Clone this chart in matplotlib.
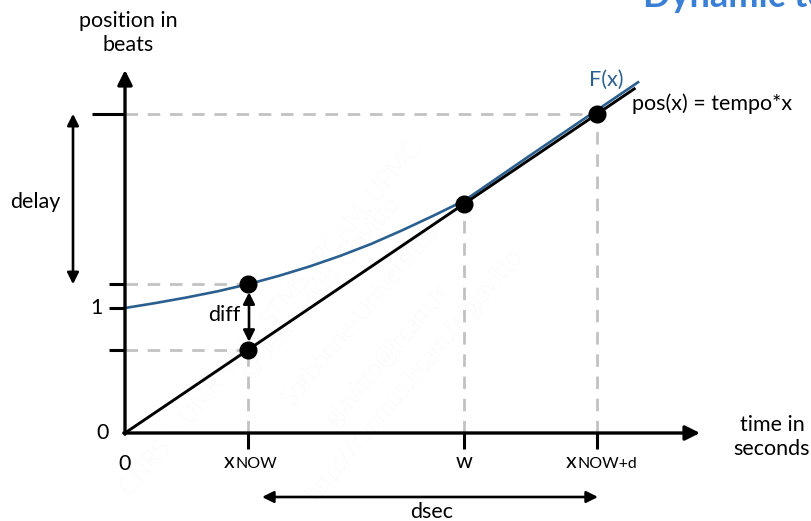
import matplotlib
matplotlib.use("Agg")
import matplotlib.pyplot as plt
import numpy as np

plt.rcParams['font.family'] = ['Lato', 'DejaVu Sans']

# ---- data ----
tempo = 0.665
x_now = 1.0
w = 2.76
x_now_d = 3.84
x_end = 4.15            # end of the drawn pos(x) line
beat_one = 1.0
F_at_now = 1.19

# F(x) (before w, then running just above pos(x))
F_x = [0.0, 0.25, 0.5, 0.75, 1.0, 1.25, 1.5, 1.75, 2.0, 2.25, 2.5, 2.76, 3.3, 3.84, 4.18]
F_y = [1.0, 1.04, 1.084, 1.133, 1.19, 1.257, 1.332, 1.417, 1.512, 1.62, 1.735, 1.86,
       2.225, 2.585, 2.812]

x_tick_labels = ["0", "x", "w", "x"]
x_tick_subs = ["", "NOW", "", "NOW+d"]

# ---- figure ----
W, H = 812, 521
fig = plt.figure(figsize=(W / 100, H / 100), dpi=100)
ax = fig.add_axes([0, 0, 1, 1])
# pixel mapping: x_px = 125 + 123*x ; y_px = 433 - 125*y
ax.set_xlim(-125 / 123, (W - 125) / 123)
ax.set_ylim(-(H - 433) / 125, 433 / 125)
ax.axis('off')

px = 1 / 123.0   # one pixel in x data units
py = 1 / 125.0   # one pixel in y data units


def X(p):
    return (p - 125) * px


def Y(p):
    return (433 - p) * py


gray = '#c2c2c2'
blue = '#2a5f8f'
dash = dict(color=gray, lw=2.0, dashes=(4.5, 3.5))

pos_now = tempo * x_now
pos_w = tempo * w
pos_d = tempo * x_now_d

# faint watermark
wm = [("CNRS \u2013 UMR 9912 STMS, IRCAM, UPMC", 135, 500),
      ("\u00a9 Jean-Louis Giavitto", 255, 385),
      ("Sorbonne-Universit\u00e9s", 295, 410),
      ("giavitto@ircam.fr", 340, 430),
      ("http://repmus.ircam.fr/giavitto", 320, 505)]
for t, wx, wy in wm:
    ax.text(X(wx), Y(wy), t, rotation=50, fontsize=18, color='#f1f1f1',
            ha='left', va='bottom', zorder=0, rotation_mode='anchor', fontweight='light')

# dashed guides
ax.plot([0, x_now_d], [pos_d, pos_d], **dash, zorder=1)
ax.plot([0, x_now], [F_at_now, F_at_now], **dash, zorder=1)
ax.plot([0, x_now], [pos_now, pos_now], **dash, zorder=1)
ax.plot([x_now, x_now], [0, pos_now], **dash, zorder=1)
ax.plot([w, w], [0, pos_w], **dash, zorder=1)
ax.plot([x_now_d, x_now_d], [0, pos_d], **dash, zorder=1)

# axes as arrows
arrow_axis = dict(arrowstyle='-|>', lw=2.4, color='black', mutation_scale=22,
                  shrinkA=0, shrinkB=0)
ax.annotate('', xy=(0, Y(70)), xytext=(0, -1.2 * py), arrowprops=arrow_axis, zorder=5)
ax.annotate('', xy=(X(700), 0), xytext=(-1.2 * px, 0), arrowprops=arrow_axis, zorder=5)

# y ticks
for yv, length in [(pos_d, 33), (F_at_now, 16), (beat_one, 16), (pos_now, 16)]:
    ax.plot([-length * px, 0], [yv, yv], color='black', lw=2.2, solid_capstyle='butt', zorder=5)
# x ticks
for xv in [x_now, w, x_now_d]:
    ax.plot([xv, xv], [0, -16 * py], color='black', lw=2.2, solid_capstyle='butt', zorder=5)

# curves
ax.plot(F_x, F_y, color=blue, lw=1.9, zorder=3, solid_capstyle='butt')
xl = np.array([0, x_end])
ax.plot(xl, tempo * xl, color='black', lw=2.1, zorder=4, solid_capstyle='butt')

# points
pts_x = [x_now, x_now, w, x_now_d]
pts_y = [pos_now, F_at_now, pos_w, pos_d]
ax.plot(pts_x, pts_y, 'o', color='black', ms=12, zorder=6)

# double arrows
darr = dict(arrowstyle='<|-|>', lw=1.9, color='black', mutation_scale=17,
            shrinkA=0, shrinkB=0)
ax.annotate('', xy=(X(73), pos_d), xytext=(X(73), F_at_now), arrowprops=darr)
ax.annotate('', xy=(x_now + 1 * px, F_at_now - 8 * py), xytext=(x_now + 1 * px, pos_now + 8 * py),
            arrowprops=darr)
ax.annotate('', xy=(X(262), Y(497)), xytext=(X(598), Y(497)), arrowprops=darr)

fs = 15.5
# text labels
ax.text(X(128), Y(33), "position in\nbeats", ha='center', va='center',
        fontsize=fs, linespacing=1.2)
ax.text(X(35), Y(202), "delay", ha='center', va='center', fontsize=fs)
ax.text(X(96), beat_one, "1", ha='center', va='center', fontsize=fs)
ax.text(X(103), 0, "0", ha='center', va='center', fontsize=fs)
ax.text(0, Y(464), x_tick_labels[0], ha='center', va='center', fontsize=fs)
ax.text(X(224), Y(315), "diff", ha='center', va='center', fontsize=fs)
ax.text(w, Y(468), x_tick_labels[2], ha='center', va='baseline', fontsize=fs)


# x labels with small-caps subscript
def xlabel(xc, main, sub, width_main, width_sub):
    total = width_main + width_sub
    x0 = xc - total / 2 * px
    ax.text(x0, Y(468), main, ha='left', va='baseline', fontsize=fs)
    ax.text(x0 + width_main * px, Y(468), sub, ha='left', va='baseline', fontsize=11.5)


xlabel(x_now, x_tick_labels[1], x_tick_subs[1], 12, 37)
xlabel(x_now_d, x_tick_labels[3], x_tick_subs[3], 12, 52)

ax.text(X(432), Y(512), "dsec", ha='center', va='center', fontsize=fs)
ax.text(X(772), Y(437), "time in\nseconds", ha='center', va='center',
        fontsize=fs, linespacing=1.2)
ax.text(X(606), Y(80), "F(x)", ha='center', va='center', fontsize=fs, color=blue)
ax.text(X(632), Y(104), "pos(x) = tempo*x", ha='left', va='center', fontsize=fs)
ax.text(X(643), Y(7), "Dynamic tempo", ha='left', va='baseline',
        fontsize=26, color='#3a7fd6', fontweight='bold')

fig.savefig("out.png", dpi=100)
